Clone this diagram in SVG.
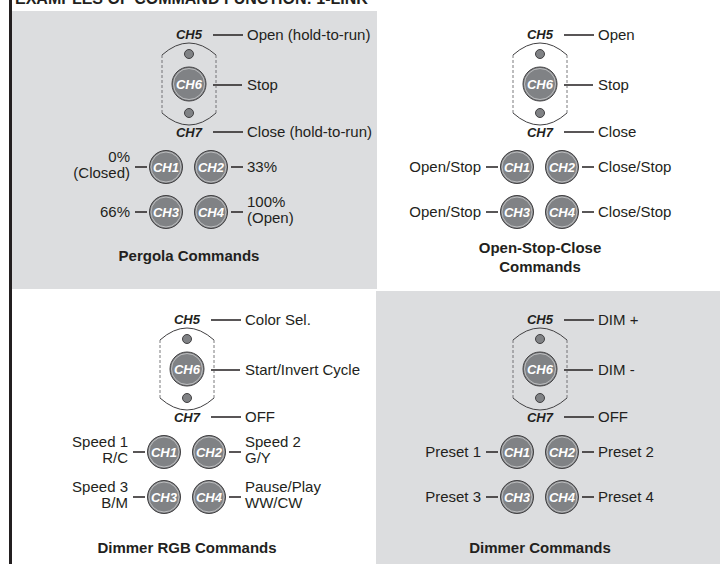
<svg xmlns="http://www.w3.org/2000/svg" width="720" height="564" viewBox="0 0 720 564">
<style>
.bg{fill:#dcdddf}
.t{font-family:"Liberation Sans",Arial,sans-serif;font-size:15px;fill:#231f20}
.r{text-anchor:end}
.ttl{font-family:"Liberation Sans",Arial,sans-serif;font-size:15px;font-weight:bold;fill:#231f20;text-anchor:middle}
.chl{font-family:"Liberation Sans",Arial,sans-serif;font-size:13px;font-weight:bold;font-style:italic;fill:#231f20;text-anchor:middle}
.cht{font-family:"Liberation Sans",Arial,sans-serif;font-size:13px;font-weight:bold;font-style:italic;fill:#fff;text-anchor:middle}
.btn{fill:#808285;stroke:#414042;stroke-width:1}
.ring{fill:none;stroke:#fff;stroke-width:0.8;opacity:0.6}
.dot{fill:#808285;stroke:#414042;stroke-width:1}
.arc{fill:none;stroke:#414042;stroke-width:1}
.dash{fill:none;stroke:#58595b;stroke-width:0.8;stroke-dasharray:3 2}
.ln{stroke:#231f20;stroke-width:1.3}
</style>
<defs>
<g id="remote">
<path class="arc" d="M162,55 Q189,31 216,55"/>
<path class="arc" d="M162,113 Q189,137 216,113"/>
<path class="dash" d="M162,55 V113 M216,55 V113"/>
<circle class="dot" cx="189" cy="54" r="4.5"/>
<circle class="dot" cx="189" cy="113" r="4.5"/>
<circle class="btn" cx="189" cy="84" r="17"/>
<circle class="ring" cx="189" cy="84" r="15.5"/>
<text class="cht" x="189" y="89">CH6</text>
<text class="chl" x="189" y="39">CH5</text>
<text class="chl" x="189" y="137">CH7</text>
</g>
<g id="lines">
<path class="ln" d="M213,35 H243 M213,85 H242 M213,132 H243 M135,167 H147 M231,167 H243 M135,212 H147 M231,212 H243"/>
</g>
</defs>
<rect class="bg" x="12" y="11" width="365" height="278"/>
<rect class="bg" x="376" y="291" width="344" height="273"/>
<rect x="9" y="0" width="3" height="564" fill="#231f20"/>
<text x="15" y="4" font-family="Liberation Sans, Arial, sans-serif" font-size="16" font-weight="bold" fill="#231f20">EXAMPLES OF COMMAND FUNCTION: 1-LINK</text>

<g id="connectors">
<use href="#lines"/>
<use href="#lines" transform="translate(351,0)"/>
<use href="#lines" transform="translate(-2,285)"/>
<use href="#lines" transform="translate(351,285)"/>
</g>

<g id="pergola" transform="translate(0,0)">
<g id="pergola-remote"><use href="#remote"/></g>
<g id="pergola-ch1"><circle class="btn" cx="166" cy="167" r="16.5"/><circle class="ring" cx="166" cy="167" r="15"/><text class="cht" x="166" y="172">CH1</text></g>
<g id="pergola-ch2"><circle class="btn" cx="211" cy="167" r="16.5"/><circle class="ring" cx="211" cy="167" r="15"/><text class="cht" x="211" y="172">CH2</text></g>
<g id="pergola-ch3"><circle class="btn" cx="166" cy="212" r="16.5"/><circle class="ring" cx="166" cy="212" r="15"/><text class="cht" x="166" y="217">CH3</text></g>
<g id="pergola-ch4"><circle class="btn" cx="211" cy="212" r="16.5"/><circle class="ring" cx="211" cy="212" r="15"/><text class="cht" x="211" y="217">CH4</text></g>
<text class="t" x="247" y="40">Open (hold-to-run)</text>
<text class="t" x="247" y="90">Stop</text>
<text class="t" x="247" y="137">Close (hold-to-run)</text>
<text class="t r" x="130" y="162">0%</text>
<text class="t r" x="130" y="178">(Closed)</text>
<text class="t" x="247" y="172">33%</text>
<text class="t r" x="130" y="217">66%</text>
<text class="t" x="247" y="207">100%</text>
<text class="t" x="247" y="223">(Open)</text>
<text class="ttl" x="189" y="261">Pergola Commands</text>
</g>

<g id="osc" transform="translate(351,0)">
<g id="osc-remote"><use href="#remote"/></g>
<g id="osc-ch1"><circle class="btn" cx="166" cy="167" r="16.5"/><circle class="ring" cx="166" cy="167" r="15"/><text class="cht" x="166" y="172">CH1</text></g>
<g id="osc-ch2"><circle class="btn" cx="211" cy="167" r="16.5"/><circle class="ring" cx="211" cy="167" r="15"/><text class="cht" x="211" y="172">CH2</text></g>
<g id="osc-ch3"><circle class="btn" cx="166" cy="212" r="16.5"/><circle class="ring" cx="166" cy="212" r="15"/><text class="cht" x="166" y="217">CH3</text></g>
<g id="osc-ch4"><circle class="btn" cx="211" cy="212" r="16.5"/><circle class="ring" cx="211" cy="212" r="15"/><text class="cht" x="211" y="217">CH4</text></g>
<text class="t" x="247" y="40">Open</text>
<text class="t" x="247" y="90">Stop</text>
<text class="t" x="247" y="137">Close</text>
<text class="t r" x="130" y="172">Open/Stop</text>
<text class="t" x="247" y="172">Close/Stop</text>
<text class="t r" x="130" y="217">Open/Stop</text>
<text class="t" x="247" y="217">Close/Stop</text>
<text class="ttl" x="189" y="253">Open-Stop-Close</text>
<text class="ttl" x="189" y="272">Commands</text>
</g>

<g id="rgb" transform="translate(-2,285)">
<g id="rgb-remote"><use href="#remote"/></g>
<g id="rgb-ch1"><circle class="btn" cx="166" cy="167" r="16.5"/><circle class="ring" cx="166" cy="167" r="15"/><text class="cht" x="166" y="172">CH1</text></g>
<g id="rgb-ch2"><circle class="btn" cx="211" cy="167" r="16.5"/><circle class="ring" cx="211" cy="167" r="15"/><text class="cht" x="211" y="172">CH2</text></g>
<g id="rgb-ch3"><circle class="btn" cx="166" cy="212" r="16.5"/><circle class="ring" cx="166" cy="212" r="15"/><text class="cht" x="166" y="217">CH3</text></g>
<g id="rgb-ch4"><circle class="btn" cx="211" cy="212" r="16.5"/><circle class="ring" cx="211" cy="212" r="15"/><text class="cht" x="211" y="217">CH4</text></g>
<text class="t" x="247" y="40">Color Sel.</text>
<text class="t" x="247" y="90">Start/Invert Cycle</text>
<text class="t" x="247" y="137">OFF</text>
<text class="t r" x="130" y="162">Speed 1</text>
<text class="t r" x="130" y="178">R/C</text>
<text class="t" x="247" y="162">Speed 2</text>
<text class="t" x="247" y="178">G/Y</text>
<text class="t r" x="130" y="207">Speed 3</text>
<text class="t r" x="130" y="223">B/M</text>
<text class="t" x="247" y="207">Pause/Play</text>
<text class="t" x="247" y="223">WW/CW</text>
<text class="ttl" x="189" y="268">Dimmer RGB Commands</text>
</g>

<g id="dimmer" transform="translate(351,285)">
<g id="dimmer-remote"><use href="#remote"/></g>
<g id="dimmer-ch1"><circle class="btn" cx="166" cy="167" r="16.5"/><circle class="ring" cx="166" cy="167" r="15"/><text class="cht" x="166" y="172">CH1</text></g>
<g id="dimmer-ch2"><circle class="btn" cx="211" cy="167" r="16.5"/><circle class="ring" cx="211" cy="167" r="15"/><text class="cht" x="211" y="172">CH2</text></g>
<g id="dimmer-ch3"><circle class="btn" cx="166" cy="212" r="16.5"/><circle class="ring" cx="166" cy="212" r="15"/><text class="cht" x="166" y="217">CH3</text></g>
<g id="dimmer-ch4"><circle class="btn" cx="211" cy="212" r="16.5"/><circle class="ring" cx="211" cy="212" r="15"/><text class="cht" x="211" y="217">CH4</text></g>
<text class="t" x="247" y="40">DIM +</text>
<text class="t" x="247" y="90">DIM -</text>
<text class="t" x="247" y="137">OFF</text>
<text class="t r" x="130" y="172">Preset 1</text>
<text class="t" x="247" y="172">Preset 2</text>
<text class="t r" x="130" y="217">Preset 3</text>
<text class="t" x="247" y="217">Preset 4</text>
<text class="ttl" x="189" y="268">Dimmer Commands</text>
</g>
</svg>
